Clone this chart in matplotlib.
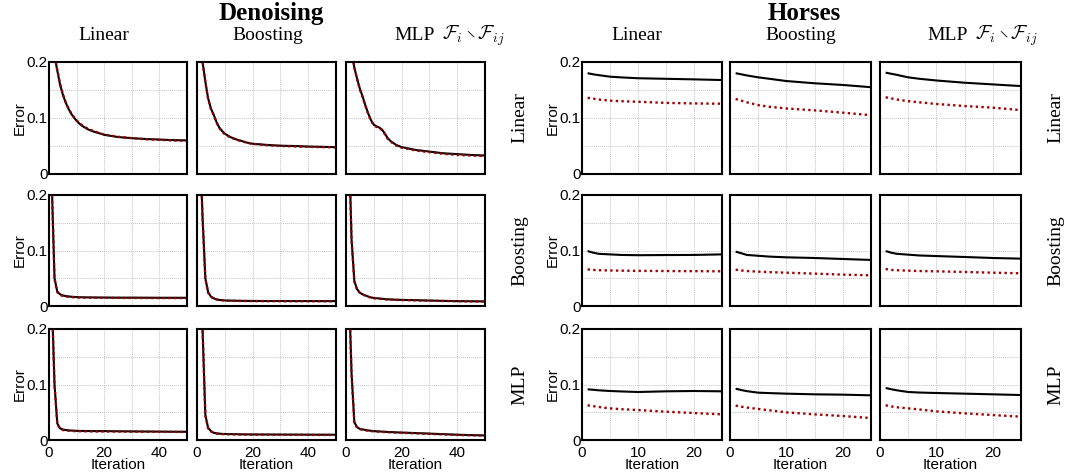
import matplotlib
matplotlib.use("Agg")
import matplotlib.pyplot as plt

plt.rcParams['mathtext.fontset'] = 'cm'

# ---------------- data ----------------
x_den = [1, 2, 3, 4, 5, 6, 7, 8, 9, 10, 11, 12, 13, 14, 15, 16, 18, 20, 25, 30, 35, 40, 45, 50]
x_hor = [1, 2, 3, 5, 7, 10, 15, 20, 25]

methods = ["Linear", "Boosting", "MLP"]

# Denoising (row = feature method on the right, col = method on top)
den_lin_lin_k = [0.28, 0.21, 0.185, 0.16, 0.142, 0.128, 0.117, 0.108, 0.101, 0.095, 0.090, 0.086, 0.083, 0.080, 0.078, 0.076, 0.073, 0.070, 0.066, 0.064, 0.0625, 0.0615, 0.0605, 0.060]
den_lin_lin_r = [0.28, 0.212, 0.186, 0.161, 0.143, 0.129, 0.118, 0.109, 0.102, 0.096, 0.091, 0.087, 0.084, 0.081, 0.079, 0.077, 0.0735, 0.0705, 0.0665, 0.064, 0.062, 0.061, 0.0598, 0.0592]
den_lin_boo_k = [0.30, 0.20, 0.165, 0.135, 0.117, 0.106, 0.093, 0.083, 0.077, 0.072, 0.069, 0.066, 0.064, 0.062, 0.0605, 0.059, 0.056, 0.054, 0.052, 0.0505, 0.050, 0.049, 0.0485, 0.048]
den_lin_boo_r = [0.30, 0.20, 0.164, 0.134, 0.116, 0.105, 0.092, 0.082, 0.076, 0.071, 0.068, 0.0655, 0.0635, 0.0615, 0.060, 0.0585, 0.0558, 0.0538, 0.0515, 0.050, 0.0493, 0.0485, 0.048, 0.0475]
den_lin_mlp_k = [0.30, 0.22, 0.19, 0.17, 0.152, 0.138, 0.122, 0.108, 0.096, 0.088, 0.085, 0.083, 0.079, 0.072, 0.064, 0.059, 0.052, 0.048, 0.043, 0.040, 0.037, 0.0355, 0.034, 0.033]
den_lin_mlp_r = [0.30, 0.222, 0.19, 0.169, 0.151, 0.137, 0.121, 0.107, 0.095, 0.087, 0.084, 0.082, 0.078, 0.071, 0.063, 0.058, 0.051, 0.047, 0.042, 0.039, 0.036, 0.034, 0.033, 0.032]

den_boo_lin_k = [0.22, 0.05, 0.026, 0.021, 0.019, 0.018, 0.0172, 0.0168, 0.0164, 0.016, 0.0158, 0.0157, 0.0156, 0.0155, 0.0155, 0.0154, 0.0153, 0.0152, 0.015, 0.015, 0.0149, 0.0148, 0.0148, 0.0148]
den_boo_lin_r = [0.22, 0.048, 0.025, 0.020, 0.018, 0.017, 0.0165, 0.016, 0.0158, 0.0155, 0.0153, 0.0152, 0.0151, 0.015, 0.015, 0.0149, 0.0148, 0.0147, 0.0146, 0.0145, 0.0144, 0.0143, 0.0143, 0.0142]
den_boo_boo_k = [0.30, 0.16, 0.05, 0.025, 0.017, 0.014, 0.012, 0.011, 0.0105, 0.010, 0.0098, 0.0097, 0.0096, 0.0095, 0.0094, 0.0093, 0.0092, 0.0091, 0.009, 0.009, 0.0089, 0.0089, 0.0088, 0.0088]
den_boo_boo_r = [0.30, 0.158, 0.049, 0.024, 0.0165, 0.0135, 0.0117, 0.0107, 0.0102, 0.0097, 0.0095, 0.0094, 0.0093, 0.0092, 0.0091, 0.009, 0.0089, 0.0088, 0.0087, 0.0087, 0.0086, 0.0086, 0.0085, 0.0085]
den_boo_mlp_k = [0.30, 0.12, 0.045, 0.03, 0.024, 0.021, 0.019, 0.017, 0.0155, 0.0145, 0.014, 0.0135, 0.013, 0.0125, 0.012, 0.0118, 0.0113, 0.011, 0.0105, 0.0098, 0.0092, 0.0088, 0.0085, 0.0083]
den_boo_mlp_r = [0.30, 0.118, 0.044, 0.029, 0.0235, 0.0205, 0.0185, 0.0165, 0.015, 0.014, 0.0135, 0.013, 0.0125, 0.012, 0.0116, 0.0114, 0.011, 0.0107, 0.0102, 0.0095, 0.009, 0.0086, 0.0083, 0.0081]

den_mlp_lin_k = [0.26, 0.10, 0.03, 0.021, 0.019, 0.018, 0.0175, 0.017, 0.0168, 0.0165, 0.0164, 0.0163, 0.0162, 0.0162, 0.0161, 0.016, 0.016, 0.016, 0.0157, 0.0155, 0.0153, 0.0151, 0.0149, 0.0148]
den_mlp_lin_r = [0.26, 0.098, 0.029, 0.020, 0.018, 0.017, 0.0167, 0.0163, 0.0161, 0.0159, 0.0158, 0.0157, 0.0156, 0.0156, 0.0155, 0.0155, 0.0154, 0.0154, 0.0152, 0.015, 0.0148, 0.0147, 0.0146, 0.0145]
den_mlp_boo_k = [0.35, 0.20, 0.045, 0.022, 0.016, 0.013, 0.012, 0.0115, 0.011, 0.0108, 0.0107, 0.0106, 0.0105, 0.0104, 0.0103, 0.0102, 0.0101, 0.010, 0.0099, 0.0098, 0.0097, 0.0096, 0.0095, 0.0095]
den_mlp_boo_r = [0.35, 0.198, 0.044, 0.021, 0.0155, 0.0125, 0.0115, 0.011, 0.0106, 0.0104, 0.0103, 0.0102, 0.0101, 0.010, 0.0099, 0.0098, 0.0097, 0.0096, 0.0095, 0.0094, 0.0093, 0.0092, 0.0091, 0.0091]
den_mlp_mlp_k = [0.28, 0.12, 0.032, 0.023, 0.020, 0.019, 0.018, 0.0172, 0.0166, 0.016, 0.0157, 0.0154, 0.0151, 0.0148, 0.0145, 0.0143, 0.0138, 0.0134, 0.0125, 0.0115, 0.0105, 0.0095, 0.0088, 0.0082]
den_mlp_mlp_r = [0.28, 0.118, 0.031, 0.022, 0.0195, 0.0185, 0.0175, 0.0167, 0.0161, 0.0155, 0.0152, 0.0149, 0.0146, 0.0143, 0.014, 0.0138, 0.0133, 0.0129, 0.012, 0.011, 0.010, 0.0091, 0.0084, 0.0079]

# Horses
hor_lin_lin_k = [0.180, 0.178, 0.1765, 0.1738, 0.1725, 0.171, 0.170, 0.169, 0.1678]
hor_lin_lin_r = [0.136, 0.1345, 0.133, 0.131, 0.130, 0.129, 0.127, 0.126, 0.1255]
hor_lin_boo_k = [0.180, 0.178, 0.176, 0.1726, 0.170, 0.166, 0.162, 0.159, 0.155]
hor_lin_boo_r = [0.134, 0.131, 0.128, 0.123, 0.120, 0.117, 0.1137, 0.1095, 0.105]
hor_lin_mlp_k = [0.181, 0.179, 0.177, 0.1726, 0.170, 0.167, 0.163, 0.160, 0.157]
hor_lin_mlp_r = [0.137, 0.135, 0.133, 0.130, 0.128, 0.125, 0.1214, 0.1185, 0.114]

hor_boo_lin_k = [0.099, 0.096, 0.094, 0.093, 0.092, 0.0915, 0.0918, 0.092, 0.093]
hor_boo_lin_r = [0.066, 0.065, 0.0645, 0.064, 0.0637, 0.0633, 0.063, 0.0628, 0.0625]
hor_boo_boo_k = [0.098, 0.095, 0.092, 0.0905, 0.089, 0.0877, 0.0865, 0.0847, 0.083]
hor_boo_boo_r = [0.0655, 0.064, 0.063, 0.0619, 0.061, 0.060, 0.0583, 0.0565, 0.0553]
hor_boo_mlp_k = [0.099, 0.096, 0.094, 0.0925, 0.091, 0.090, 0.0883, 0.0865, 0.0853]
hor_boo_mlp_r = [0.0667, 0.065, 0.0645, 0.0637, 0.063, 0.0625, 0.0613, 0.060, 0.0589]

hor_mlp_lin_k = [0.0913, 0.0905, 0.0895, 0.0883, 0.0875, 0.0865, 0.0877, 0.0883, 0.0877]
hor_mlp_lin_r = [0.0625, 0.061, 0.0595, 0.057, 0.0555, 0.054, 0.051, 0.0486, 0.0462]
hor_mlp_boo_k = [0.0925, 0.090, 0.088, 0.0853, 0.0845, 0.0835, 0.0823, 0.0817, 0.0805]
hor_mlp_boo_r = [0.062, 0.060, 0.0585, 0.0559, 0.0535, 0.0498, 0.0462, 0.0432, 0.0396]
hor_mlp_mlp_k = [0.0937, 0.0915, 0.0895, 0.0865, 0.0855, 0.0847, 0.0835, 0.0823, 0.081]
hor_mlp_mlp_r = [0.0625, 0.0605, 0.059, 0.057, 0.055, 0.0516, 0.048, 0.045, 0.042]

den_k = [[den_lin_lin_k, den_lin_boo_k, den_lin_mlp_k],
         [den_boo_lin_k, den_boo_boo_k, den_boo_mlp_k],
         [den_mlp_lin_k, den_mlp_boo_k, den_mlp_mlp_k]]
den_r = [[den_lin_lin_r, den_lin_boo_r, den_lin_mlp_r],
         [den_boo_lin_r, den_boo_boo_r, den_boo_mlp_r],
         [den_mlp_lin_r, den_mlp_boo_r, den_mlp_mlp_r]]
hor_k = [[hor_lin_lin_k, hor_lin_boo_k, hor_lin_mlp_k],
         [hor_boo_lin_k, hor_boo_boo_k, hor_boo_mlp_k],
         [hor_mlp_lin_k, hor_mlp_boo_k, hor_mlp_mlp_k]]
hor_r = [[hor_lin_lin_r, hor_lin_boo_r, hor_lin_mlp_r],
         [hor_boo_lin_r, hor_boo_boo_r, hor_boo_mlp_r],
         [hor_mlp_lin_r, hor_mlp_boo_r, hor_mlp_mlp_r]]

den_xticks = [0, 10, 20, 30, 40, 50]
den_xlabels = ["0", "", "20", "", "40", ""]
hor_xticks = [0, 5, 10, 15, 20, 25]
hor_xlabels = ["0", "", "10", "", "20", ""]
yticks = [0, 0.05, 0.1, 0.15, 0.2]
ylabels = ["0", "", "0.1", "", "0.2"]

# ---------------- layout ----------------
W, H = 1067, 475
fig = plt.figure(figsize=(W / 100, H / 100), dpi=100)

SANS = "Liberation Sans"
SERIF = "Liberation Serif"

rows_px = [(62, 174), (195, 306), (329, 440)]
den_cols_px = [(49, 187), (197, 336), (346, 485)]
hor_cols_px = [(582, 722), (730, 871), (880, 1021)]

RED = "#a00000"


def make_axes(x0, x1, y0, y1):
    return fig.add_axes([x0 / W, 1 - y1 / H, (x1 - x0) / W, (y1 - y0) / H])


def draw_group(cols_px, xs, kdata, rdata, xmax, xticks, xlabels):
    for i, (y0, y1) in enumerate(rows_px):
        for j, (x0, x1) in enumerate(cols_px):
            ax = make_axes(x0, x1, y0, y1)
            ax.plot(xs, kdata[i][j], color="black", lw=1.5, solid_capstyle="butt")
            ax.plot(xs, rdata[i][j], color=RED, lw=1.7, linestyle=(0, (1, 1.4)))
            ax.set_xlim(0, xmax)
            ax.set_ylim(0, 0.2)
            ax.set_xticks(xticks)
            ax.set_yticks(yticks)
            ax.grid(True, color="#c4c4c4", linestyle=(0, (1, 1)), lw=0.7)
            ax.tick_params(length=0, labelsize=11)
            ax.tick_params(axis="y", pad=1)
            ax.tick_params(axis="x", pad=4)
            for s in ax.spines.values():
                s.set_linewidth(1.5)
            if j == 0:
                ax.set_yticklabels(ylabels, fontfamily=SANS)
                ax.set_ylabel("Error", fontfamily=SANS, fontsize=11, labelpad=0)
            else:
                ax.set_yticklabels([])
            if i == 2:
                ax.set_xticklabels(xlabels, fontfamily=SANS)
                ax.set_xlabel("Iteration", fontfamily=SANS, fontsize=11, labelpad=-1)
            else:
                ax.set_xticklabels([])
            if j == 2:
                fig.text((x1 + 35) / W, 1 - ((y0 + y1) / 2) / H, methods[i], rotation=90,
                         ha="center", va="center", fontfamily=SERIF, fontsize=14)


draw_group(den_cols_px, x_den, den_k, den_r, 50, den_xticks, den_xlabels)
draw_group(hor_cols_px, x_hor, hor_k, hor_r, 25, hor_xticks, hor_xlabels)

# titles
fig.text(271 / W, 1 - 20 / H, "Denoising", ha="center", va="baseline",
         fontfamily=SERIF, fontweight="bold", fontsize=18)
fig.text(804 / W, 1 - 20 / H, "Horses", ha="center", va="baseline",
         fontfamily=SERIF, fontweight="bold", fontsize=18)

col_title_x_den = [104, 268, 415]
col_title_x_hor = [637, 801, 948]
for cx, name in zip(col_title_x_den, methods):
    fig.text(cx / W, 1 - 40 / H, name, ha="center", va="baseline", fontfamily=SERIF, fontsize=14)
for cx, name in zip(col_title_x_hor, methods):
    fig.text(cx / W, 1 - 40 / H, name, ha="center", va="baseline", fontfamily=SERIF, fontsize=14)

setminus = r"$\mathcal{F}_i \setminus \mathcal{F}_{ij}$"
fig.text(473 / W, 1 - 40 / H, setminus, ha="center", va="baseline", fontsize=14)
fig.text(1006 / W, 1 - 40 / H, setminus, ha="center", va="baseline", fontsize=14)

fig.savefig("out.png", dpi=100)
